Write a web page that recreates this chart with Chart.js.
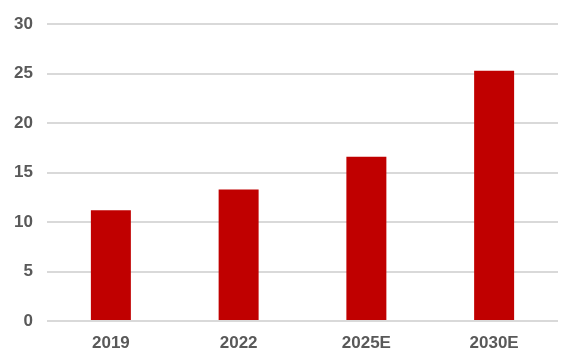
<!DOCTYPE html>
<html>
<head>
<meta charset="utf-8">
<script src="https://cdn.jsdelivr.net/npm/chart.js@4"></script>
<style>
  html, body { margin: 0; padding: 0; background: #ffffff; }
  #wrap { width: 581px; height: 364px; }
</style>
</head>
<body>
<div id="wrap"><canvas id="chart" width="581" height="364"></canvas></div>
<script>
// Chart data
const categories = ['2019', '2022', '2025E', '2030E'];
const values = [11.2, 13.3, 16.6, 25.3];
const yTicks = [0, 5, 10, 15, 20, 25, 30];

const labelFont = { family: "'Liberation Sans', Arial, sans-serif", size: 17, weight: 'bold' };

new Chart(document.getElementById('chart').getContext('2d'), {
    type: 'bar',
    data: {
        labels: categories,
        datasets: [{
            data: values,
            backgroundColor: '#c00000',
            borderWidth: 0,
            categoryPercentage: 1,
            barPercentage: 0.313
        }]
    },
    options: {
        responsive: false,
        animation: false,
        layout: { padding: { top: 0, right: 23, bottom: 0, left: 0 } },
        plugins: {
            legend: { display: false },
            tooltip: { enabled: false }
        },
        scales: {
            y: {
                min: 0,
                max: 30,
                afterBuildTicks: (axis) => { axis.ticks = yTicks.map(v => ({ value: v })); },
                afterFit: (axis) => { axis.width = 47; },
                border: { display: false },
                grid: { color: '#d9d9d9', lineWidth: 2, drawTicks: false },
                ticks: { color: '#595959', font: labelFont, padding: 14 }
            },
            x: {
                afterFit: (axis) => { axis.height = 43; },
                border: { display: false },
                grid: { display: false, drawTicks: false },
                ticks: { color: '#595959', font: labelFont, padding: 12 }
            }
        }
    }
});
</script>
</body>
</html>
